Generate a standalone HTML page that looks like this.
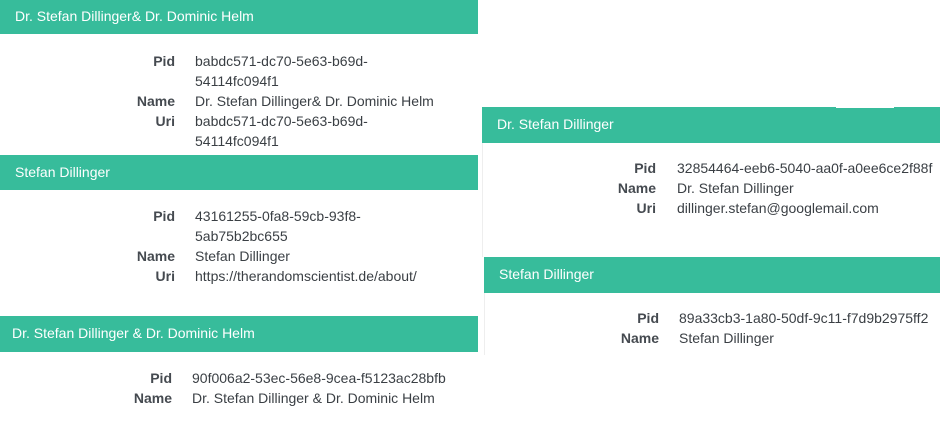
<!DOCTYPE html>
<html><head><meta charset="utf-8"><style>
body{margin:0;width:940px;height:429px;background:#fff;position:relative;overflow:hidden;font-family:"Liberation Sans","DejaVu Sans",sans-serif;font-size:14px;color:#3a3f44}
.h{position:absolute;background:#37bc9b;color:#fff;height:35px;line-height:35px;box-sizing:border-box;padding-left:15px;font-size:14px}
.t{position:absolute;line-height:20px;white-space:nowrap}
.l{font-weight:bold;text-align:right;color:#454a50}
.b{position:absolute;width:1px;background:#eeeeee}
</style></head><body>
<div class="h" style="left:0;top:0;width:478px;height:34px;line-height:32px">Dr. Stefan Dillinger&amp; Dr. Dominic Helm</div>
<div class="t l" style="right:765px;top:51px">Pid</div>
<div class="t" style="left:195px;top:51px">babdc571-dc70-5e63-b69d-<br>54114fc094f1</div>
<div class="t l" style="right:765px;top:91px">Name<br>Uri</div>
<div class="t" style="left:195px;top:91px">Dr. Stefan Dillinger&amp; Dr. Dominic Helm<br>babdc571-dc70-5e63-b69d-<br>54114fc094f1</div>

<div class="h" style="left:0;top:155px;width:478px;height:35px">Stefan Dillinger</div>
<div class="t l" style="right:765px;top:206px">Pid</div>
<div class="t" style="left:195px;top:206px">43161255-0fa8-59cb-93f8-<br>5ab75b2bc655</div>
<div class="t l" style="right:765px;top:246px">Name<br>Uri</div>
<div class="t" style="left:195px;top:246px">Stefan Dillinger<br>https://therandomscientist.de/about/</div>

<div class="h" style="left:0;top:316px;width:478px;height:36px;padding-left:12px">Dr. Stefan Dillinger &amp; Dr. Dominic Helm</div>
<div class="t l" style="right:768px;top:368px">Pid<br>Name</div>
<div class="t" style="left:192px;top:368px">90f006a2-53ec-56e8-9cea-f5123ac28bfb<br>Dr. Stefan Dillinger &amp; Dr. Dominic Helm</div>

<div class="h" style="left:482px;top:107px;width:458px;height:36px;padding-left:15px">Dr. Stefan Dillinger</div>
<div style="position:absolute;left:836px;top:107px;width:58px;height:1px;background:#fff"></div>
<div class="b" style="left:482px;top:143px;height:114px"></div>
<div class="t l" style="right:284px;top:158px">Pid<br>Name<br>Uri</div>
<div class="t" style="left:677px;top:158px">32854464-eeb6-5040-aa0f-a0ee6ce2f88f<br>Dr. Stefan Dillinger<br>dillinger.stefan@googlemail.com</div>

<div class="h" style="left:484px;top:257px;width:456px;height:36px;padding-left:15px">Stefan Dillinger</div>
<div class="b" style="left:484px;top:293px;height:62px"></div>
<div class="t l" style="right:281px;top:308px">Pid<br>Name</div>
<div class="t" style="left:679px;top:308px">89a33cb3-1a80-50df-9c11-f7d9b2975ff2<br>Stefan Dillinger</div>
</body></html>
